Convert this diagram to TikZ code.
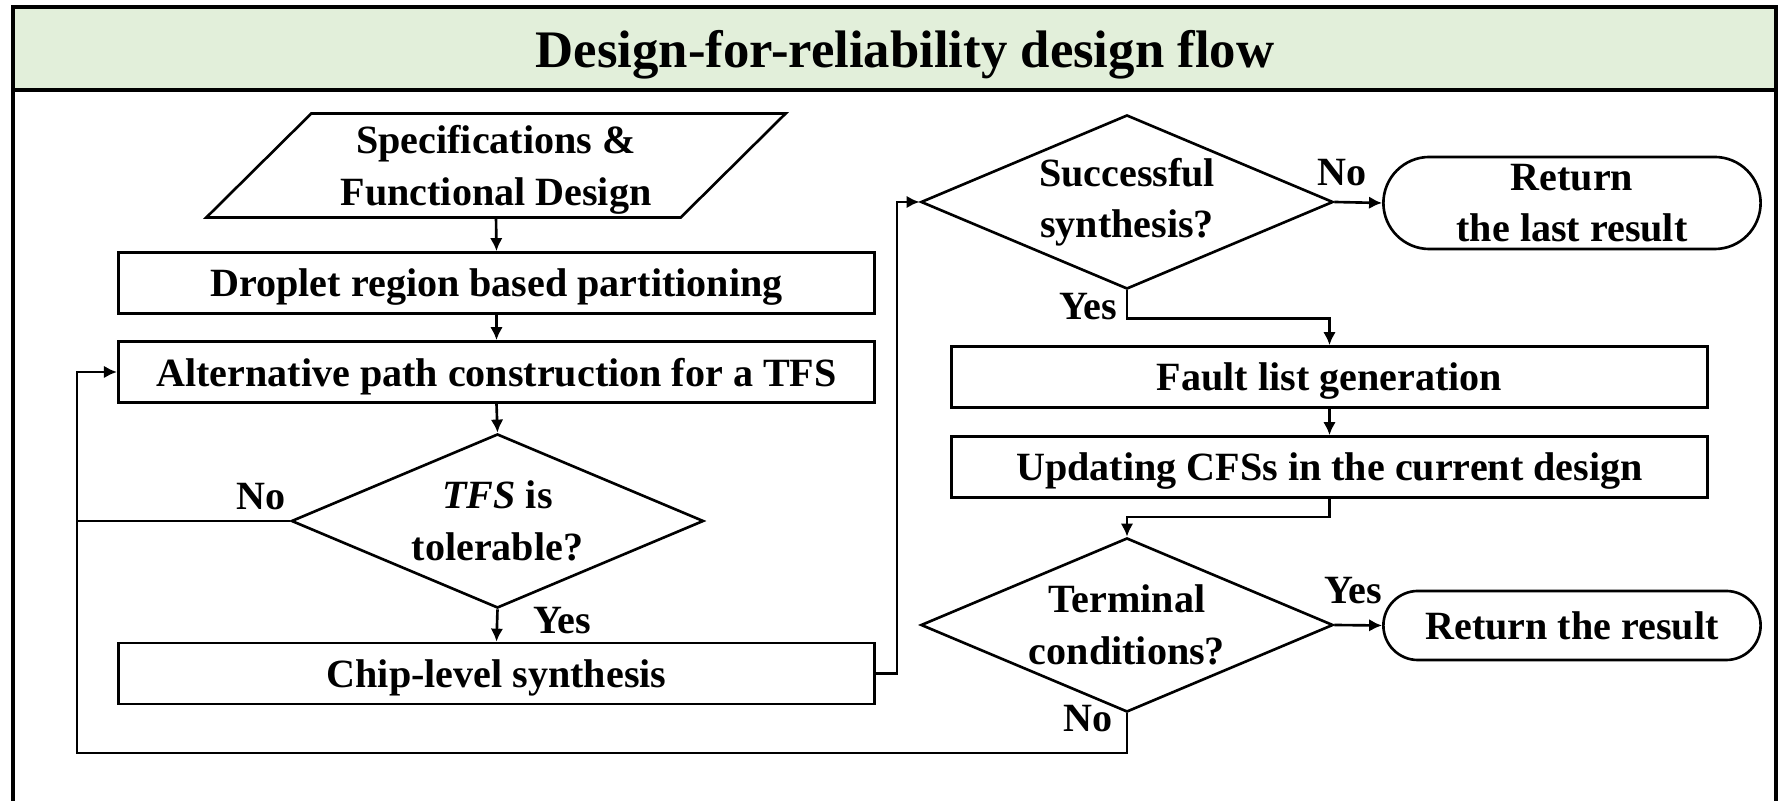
\documentclass[tikz,border=0pt]{standalone}
\usepackage{fontspec}
\setmainfont{Liberation Serif}
\usetikzlibrary{shapes.geometric,shapes.misc,arrows.meta}

\definecolor{bandgreen}{HTML}{E2EFDA}

\tikzset{
  every node/.style={font=\fontsize{11.4}{14.6}\selectfont\bfseries},
  procbox/.style={draw, line width=0.75pt, minimum width=7.56cm, minimum height=0.61cm, inner sep=0pt, text depth=0pt},
  decision/.style={draw, diamond, aspect=2.35, line width=0.75pt, minimum width=4.12cm, minimum height=1.74cm, inner sep=0pt, align=center},
  endbox/.style={draw, rounded rectangle, line width=0.75pt, minimum width=3.77cm, inner sep=0pt, align=center},
  iobox/.style={draw, trapezium, trapezium left angle=42, trapezium right angle=138, trapezium stretches=true, line width=0.75pt, minimum width=5.8cm, minimum height=1.04cm, inner sep=0pt, align=center, text depth=0pt},
  flow/.style={line width=0.75pt, -{Latex[length=3.7pt,width=3.6pt]}},
  link/.style={line width=0.75pt},
  tag/.style={inner sep=0pt}
}

\begin{document}
\begin{tikzpicture}[x=0.01cm, y=-0.01cm]
  \useasboundingbox (0,0) rectangle (1781,801);

  % frame and title band
  \fill[bandgreen] (13,7) rectangle (1776,90);
  \draw[line width=0.9pt] (13,801) -- (13,7) -- (1776,7) -- (1776,801);
  \draw[line width=0.9pt] (13,90) -- (1776,90);
  \node (title) at (905,55) {\fontsize{15}{18}\selectfont Design-for-reliability design flow};

  % left column
  \node[iobox] (spec) at (496,165.5) {Specifications \&\\Functional Design};
  \node[procbox] (part) at (496.5,283) {Droplet region based partitioning};
  \node[procbox] (alt) at (496.5,372) {Alternative path construction for a TFS};
  \node[decision] (tfs) at (497.5,521) {\textit{TFS} is\\tolerable?};
  \node[procbox] (chip) at (496.5,673.5) {Chip-level synthesis};

  % right column
  \node[decision] (succ) at (1127,202) {Successful\\synthesis?};
  \node[endbox, minimum height=0.92cm] (lastres) at (1572,203) {Return\\the last result};
  \node[procbox] (fault) at (1329.5,377) {Fault list generation};
  \node[procbox] (upd) at (1329.5,467) {Updating CFSs in the current design};
  \node[decision] (term) at (1127,625) {Terminal\\conditions?};
  \node[endbox, minimum height=0.69cm] (res) at (1572,625.5) {Return the result};

  % branch labels
  \node[tag] (noA) at (261,497) {No};
  \node[tag] (yesA) at (562,621) {Yes};
  \node[tag] (noB) at (1342,173) {No};
  \node[tag] (yesB) at (1088,307) {Yes};
  \node[tag] (yesC) at (1353,591) {Yes};
  \node[tag] (noC) at (1088,719) {No};

  \coordinate (loop) at (77,753);

  % connectors
  \draw[flow] (spec.south) -- (part.north);
  \draw[flow] (part.south) -- (alt.north);
  \draw[flow] (alt.south) -- (tfs.north);
  \draw[flow] (tfs.south) -- (chip.north);
  \draw[link] (tfs.west) -- (tfs.west -| loop);
  \draw[flow] (chip.east) -- ++(21,0) |- (succ.west);
  \draw[flow] (succ.east) -- (lastres.west);
  \draw[flow] (succ.south) -- ++(0,28) -| (fault.north);
  \draw[flow] (fault.south) -- (upd.north);
  \draw[flow] (upd.south) -- ++(0,18) -| (term.north);
  \draw[flow] (term.east) -- (res.west);
  \draw[flow] (term.south) |- (loop) |- (alt.west);
\end{tikzpicture}
\end{document}
